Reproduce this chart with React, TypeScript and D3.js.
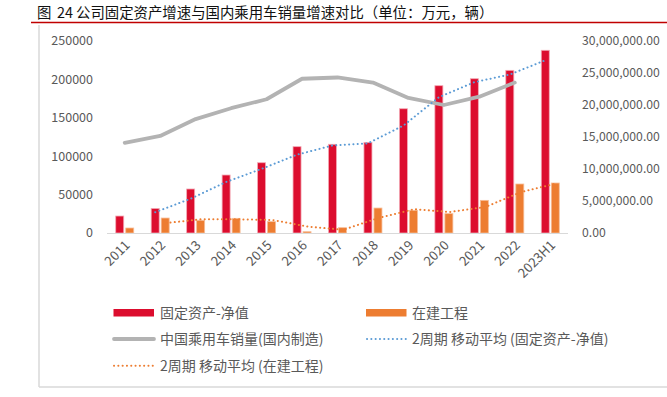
import * as d3 from 'd3'

// categories
const years = ['2011', '2012', '2013', '2014', '2015', '2016', '2017', '2018', '2019', '2020', '2021', '2022', '2023H1']

// 固定资产-净值 (万元)
const fixedAssets = [22100, 32000, 57300, 75500, 91500, 112400, 115500, 118000, 161800, 191800, 200900, 211800, 237900]
// 在建工程 (万元)
const construction = [6500, 19500, 16500, 19100, 14800, 1700, 6900, 32500, 29500, 25200, 42500, 63800, 65100]
// 中国乘用车销量(国内制造) (辆), no value for 2023H1
const carSales = [14100000, 15160000, 17800000, 19500000, 20900000, 24100000, 24300000, 23500000, 21100000, 20000000, 21300000, 23500000, null]

const leftTicks = [0, 50000, 100000, 150000, 200000, 250000]
const rightTicks = [0, 5000000, 10000000, 15000000, 20000000, 25000000, 30000000]

const titleNo = ['图', '24']
const title = '公司固定资产增速与国内乘用车销量增速对比（单位：万元，辆）'

const W = 667
const H = 397
const font = "'Noto Sans CJK SC', 'Noto Sans', sans-serif"
const RED = '#DC0D2E'
const ORANGE = '#ED7D31'
const BLUE = '#5B9BD5'
const GRAY = '#B3B3B3'
const TEXT = '#595959'

// 2-period moving average of a series (same as the Excel trendline)
function movingAvg(vals: number[]) {
  return vals.map((v, i) => (i === 0 ? null : (vals[i - 1] + v) / 2))
}

export default function App() {
  const x = d3.scaleBand<string>().domain(years).range([107, 568])
  const yL = d3.scaleLinear().domain([0, 250000]).range([233, 41])
  const yR = d3.scaleLinear().domain([0, 30000000]).range([233, 41])
  const cx = (d: string) => (x(d) ?? 0) + x.bandwidth() / 2
  const barW = 8

  const salesLine = d3
    .line<number | null>()
    .defined((d) => d != null)
    .x((_, i) => cx(years[i]))
    .y((d) => yR(d as number))

  const maRed = d3
    .line<number | null>()
    .defined((d) => d != null)
    .x((_, i) => cx(years[i]) - 5)
    .y((d) => yL(d as number))

  const maOrange = d3
    .line<number | null>()
    .defined((d) => d != null)
    .x((_, i) => cx(years[i]) + 6)
    .y((d) => yL(d as number))

  const fmtR = d3.format(',.2f')
  const dots = '0.1 4.2'

  return (
    <svg width={W} height={H} style={{ position: 'absolute', left: 0, top: 0, fontFamily: font }}>
      <rect width={W} height={H} fill="#fff" />
      {/* title */}
      <g fontSize={14.4} fill="#111">
        <text x={37} y={18}>{titleNo[0]}</text>
        <text x={57} y={18}>{titleNo[1]}</text>
        <text x={76} y={18}>{title}</text>
      </g>
      <line x1={31} x2={W} y1={22.5} y2={22.5} stroke="#C00000" strokeWidth={1.6} />
      {/* frame */}
      <line x1={39} x2={39} y1={25} y2={387} stroke="#D9D9D9" strokeWidth={1.5} />
      <line x1={39} x2={W} y1={387} y2={387} stroke="#D9D9D9" strokeWidth={1.5} />

      {/* left axis labels */}
      {leftTicks.map((t) => (
        <text key={t} x={93} y={yL(t)} dy="0.35em" textAnchor="end" fontSize={12.5} fill={TEXT}>
          {t}
        </text>
      ))}
      {/* right axis labels */}
      {rightTicks.map((t) => (
        <text key={t} x={582} y={yR(t)} dy="0.35em" fontSize={12.2} fill={TEXT}>
          {fmtR(t)}
        </text>
      ))}

      {/* bars */}
      {years.map((yr, i) => (
        <g key={yr}>
          <rect x={cx(yr) - 9} y={yL(fixedAssets[i])} width={barW} height={yL(0) - yL(fixedAssets[i])} fill={RED} stroke="#F3A9B5" strokeWidth={0.8} />
          <rect x={cx(yr) + 1} y={yL(construction[i])} width={barW} height={yL(0) - yL(construction[i])} fill={ORANGE} stroke="#F7BE98" strokeWidth={0.8} />
        </g>
      ))}

      {/* baseline */}
      <line x1={107} x2={568} y1={233.5} y2={233.5} stroke="#D9D9D9" strokeWidth={1.2} />

      {/* lines */}
      <path d={salesLine(carSales) ?? ''} fill="none" stroke={GRAY} strokeWidth={3.8} strokeLinejoin="round" strokeLinecap="round" />
      <path d={maRed(movingAvg(fixedAssets)) ?? ''} fill="none" stroke={BLUE} strokeWidth={2} strokeDasharray={dots} strokeLinecap="round" />
      <path d={maOrange(movingAvg(construction)) ?? ''} fill="none" stroke={ORANGE} strokeWidth={2} strokeDasharray={dots} strokeLinecap="round" />

      {/* x labels */}
      {years.map((yr) => (
        <text key={yr} transform={`translate(${cx(yr) + 6},${246}) rotate(-45)`} textAnchor="end" fontSize={13.2} fill={TEXT}>
          {yr}
        </text>
      ))}

      {/* legend */}
      <g fontSize={14} fill={TEXT}>
        <rect x={113.5} y={309} width={40.5} height={7.5} fill={RED} />
        <text x={160} y={312.7} dy="0.35em">固定资产-净值</text>
        <rect x={366} y={309} width={40.5} height={7.5} fill={ORANGE} />
        <text x={412} y={312.7} dy="0.35em">在建工程</text>
        <line x1={114} x2={154} y1={339} y2={339} stroke={GRAY} strokeWidth={3.8} strokeLinecap="round" />
        <text x={160} y={339} dy="0.35em">中国乘用车销量(国内制造)</text>
        <line x1={367} x2={406} y1={339} y2={339} stroke={BLUE} strokeWidth={2} strokeDasharray={dots} strokeLinecap="round" />
        <text x={412} y={339} dy="0.35em">2周期 移动平均 (固定资产-净值)</text>
        <line x1={114} x2={153} y1={365.7} y2={365.7} stroke={ORANGE} strokeWidth={2} strokeDasharray={dots} strokeLinecap="round" />
        <text x={160} y={365.7} dy="0.35em">2周期 移动平均 (在建工程)</text>
      </g>
    </svg>
  )
}
